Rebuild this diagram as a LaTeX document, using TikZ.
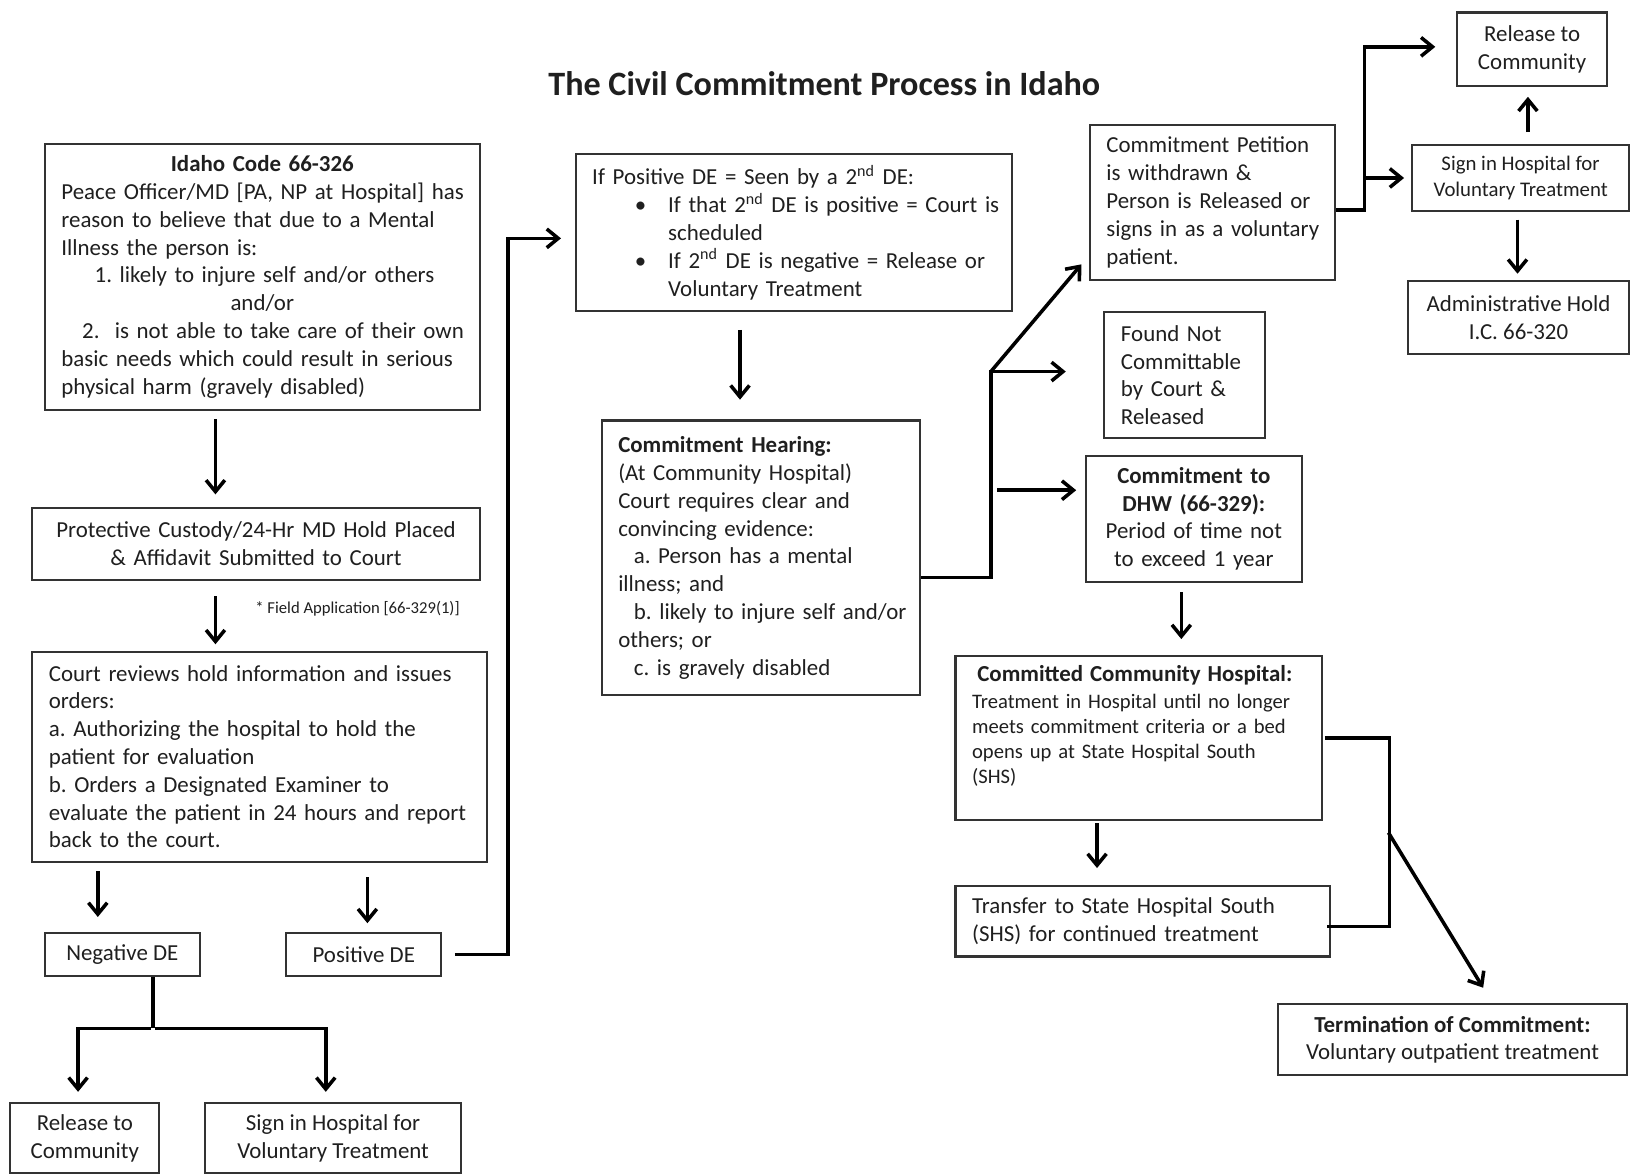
\documentclass[tikz,border=0pt]{standalone}
\usepackage{fontspec}
\setmainfont{Carlito}
\usetikzlibrary{arrows.meta,calc}
\newcommand\fA{\fontsize{11}{13.35}\selectfont}
\newcommand\fB{\fontsize{9.9}{12}\selectfont}
\newcommand\fC{\fontsize{10}{12.5}\selectfont}
\frenchspacing
\begin{document}
\begin{tikzpicture}[
  x=0.5pt, y=-0.5pt,
  box/.style={draw=black!80, line width=1pt, inner xsep=8pt, inner ysep=0pt, align=left, font=\fA, text=black!88},
  cbox/.style={box, align=center},
  conn/.style={line width=1.7pt, black},
  arr/.style={conn, -{Straight Barb[length=5.5pt,width=9pt]}},
]
\useasboundingbox (0,0) rectangle (1568,1129);
\fill[white] (0,0) rectangle (1568,1129);

\node[font=\fontsize{16.4}{19}\selectfont\bfseries, text=black!88] (title) at (792,80) {The Civil Commitment Process in Idaho};

% left column
\node[box, text width=193pt, minimum width=209pt, minimum height=128pt] (A) at (252,266)
 {\makebox[\linewidth]{\textbf{Idaho Code 66-326}}\\
  \mbox{Peace Officer/MD [PA, NP at Hospital] has}\\
  \mbox{reason to believe that due to a Mental}\\
  \mbox{Illness the person is:}\\
  \hspace*{16pt}\mbox{1. likely to injure self and/or others}\\
  \makebox[\linewidth]{and/or}\\
  \hspace*{10pt}\mbox{2.\ \ is not able to take care of their own}\\
  \mbox{basic needs which could result in serious}\\
  \mbox{physical harm (gravely disabled)}};

\node[cbox, text width=199pt, minimum width=215pt, minimum height=34.5pt] (B) at (246,522.5)
 {Protective Custody/24-Hr MD Hold Placed\\ \& Affidavit Submitted to Court};

\node[font=\fontsize{8}{9.5}\selectfont, text=black!88, anchor=west, inner sep=0pt] (note) at (245,585) {* Field Application [66-329(1)]};

\node[box, text width=202.5pt, minimum width=218.5pt, minimum height=101pt] (C) at (249.5,727)
 {\mbox{Court reviews hold information and issues}\\
  orders:\\
  \mbox{a. Authorizing the hospital to hold the}\\
  patient for evaluation\\
  \mbox{b. Orders a Designated Examiner to}\\
  \mbox{evaluate the patient in 24 hours and report}\\
  back to the court.};

\node[cbox, minimum width=74.5pt, minimum height=21pt] (neg) at (117.5,917) {Negative DE};
\node[cbox, minimum width=74.5pt, minimum height=21pt] (pos) at (349.5,917) {Positive DE};
\node[cbox, minimum width=71.5pt, minimum height=33.5pt] (relL) at (81.5,1093.5) {Release to\\ Community};
\node[cbox, minimum width=123pt, minimum height=33.5pt] (signL) at (320,1093.5) {Sign in Hospital for\\ Voluntary Treatment};

% middle column
\node[box, text width=193.5pt, minimum width=209.5pt, minimum height=75.5pt] (D) at (762.5,223.5)
 {If Positive DE = Seen by a 2\textsuperscript{nd} DE:\\
  \hspace*{20.5pt}\makebox[16pt][l]{\textbullet}\mbox{If that 2\textsuperscript{nd} DE is positive = Court is}\\
  \hspace*{36.5pt}scheduled\\
  \hspace*{20.5pt}\makebox[16pt][l]{\textbullet}\mbox{If 2\textsuperscript{nd} DE is negative = Release or}\\
  \hspace*{36.5pt}Voluntary Treatment};

\node[box, text width=137pt, minimum width=153pt, minimum height=132pt] (E) at (731,536)
 {\textbf{Commitment Hearing:}\\
  (At Community Hospital)\\
  Court requires clear and\\
  convincing evidence:\\
  \hspace*{7.5pt}a. Person has a mental\\
  illness; and\\
  \hspace*{7.5pt}\mbox{b. likely to injure self and/or}\\
  others; or\\
  \hspace*{7.5pt}c. is gravely disabled};

% right part
\node[box, text width=102pt, minimum width=118pt, minimum height=74.5pt] (F) at (1165,194.5)
 {\mbox{Commitment Petition}\\ is withdrawn \&\\ \mbox{Person is Released or}\\ \mbox{signs in as a voluntary}\\ patient.};

\node[box, text width=61pt, minimum width=77pt, minimum height=60.5pt] (G) at (1138,360.5)
 {Found Not\\ \mbox{Committable}\\ by Court \&\\ Released};

\node[cbox, text width=88pt, minimum width=104pt, minimum height=60.5pt] (H) at (1147,498.5)
 {\textbf{Commitment to}\\ \textbf{DHW (66-329):}\\ Period of time not\\ to exceed 1 year};

\node[box, text width=160pt, minimum width=176pt, minimum height=79pt, font=\fB] (I) at (1094,709)
 {\hspace*{2.5pt}\mbox{\fA\bfseries Committed Community Hospital:}\\[1pt]
  \mbox{Treatment in Hospital until no longer}\\
  \mbox{meets commitment criteria or a bed}\\
  \mbox{opens up at State Hospital South}\\
  (SHS)\rule[-13pt]{0pt}{13pt}};

\node[box, text width=164pt, minimum width=180pt, minimum height=34pt] (J) at (1098,885)
 {\mbox{Transfer to State Hospital South}\\ \mbox{(SHS) for continued treatment}};

\node[cbox, minimum width=167.5pt, minimum height=34pt] (K) at (1395.5,999)
 {\textbf{Termination of Commitment:}\\ Voluntary outpatient treatment};

\node[cbox, minimum width=72pt, minimum height=35.5pt] (relT) at (1472,47.5) {Release to\\ Community};
\node[cbox, minimum width=104pt, minimum height=32pt, font=\fC] (signT) at (1461,171) {Sign in Hospital for\\ Voluntary Treatment};
\node[cbox, minimum width=106pt, minimum height=35pt] (adm) at (1459,305) {Administrative Hold\\ I.C. 66-320};

% connectors, left column
\draw[arr, shorten <=4pt, shorten >=6pt] (207,0 |- A.south) -- (207,0 |- B.north);
\draw[arr, shorten <=7.5pt, shorten >=3pt] (207,0 |- B.south) -- (207,0 |- C.north);
\draw[arr, shorten <=4pt, shorten >=7pt] (94,0 |- C.south) -- (94,0 |- neg.north);
\draw[arr, shorten <=7pt, shorten >=4pt] (353,0 |- C.south) -- (353,0 |- pos.north);
\draw[arr] ([xshift=6pt]pos.east) -- ++(25.5pt,0) |- ([xshift=-6.5pt,yshift=-2.75pt]D.west);
\draw[conn] ([xshift=14.75pt]neg.south) -- ++(0,-24.5pt) coordinate (nj);
\draw[arr] ([xshift=-0.85pt]nj) -| ([xshift=-3.25pt,yshift=5pt]relL.north);
\draw[arr] ([xshift=0.85pt]nj) -| ([xshift=-3.5pt,yshift=5pt]signL.north);

% middle
\draw[arr, shorten <=8.5pt, shorten >=9.5pt] (711,0 |- D.south) -- (711,0 |- E.north);
\coordinate (ej) at (952,357);
\draw[conn] ([yshift=-9.5pt]E.east) -| ([yshift=0.85pt]ej);
\draw[arr] ([xshift=-0.85pt]ej) -- ([xshift=-18pt]G.west |- ej);
\draw[arr] (ej) -- ([xshift=-3.5pt,yshift=8pt]F.south west);
\coordinate (hs) at (958,471);
\draw[arr, shorten >=4pt] (hs) -- (hs -| H.west);

% right
\draw[arr, shorten <=4.5pt, shorten >=7.5pt] (1135,0 |- H.south) -- (1135,0 |- I.north);
\draw[arr, shorten <=1pt, shorten >=8pt] (1054,0 |- I.south) -- (1054,0 |- J.north);
\draw[conn] ([xshift=1pt]I.east) -- ++(31pt,0) coordinate (b1) |- ([xshift=-2pt,yshift=-2.5pt]J.east);
\coordinate (bj) at (1334,800);
\draw[arr] (bj) -- ([xshift=14.75pt,yshift=7.5pt]K.north);

\draw[arr] ([yshift=-3.75pt]F.east) -- ++(13.5pt,0) coordinate (fj) |- ([xshift=-10pt,yshift=1.25pt]relT.west);
\draw[arr] (fj |- signT.west) -- ([xshift=-3.5pt]signT.west);
\draw[arr, shorten <=5.5pt, shorten >=4.5pt] (1468,0 |- signT.north) -- (1468,0 |- relT.south);
\draw[arr, shorten <=3.5pt, shorten >=3pt] (1458,0 |- signT.south) -- (1458,0 |- adm.north);
\end{tikzpicture}
\end{document}
